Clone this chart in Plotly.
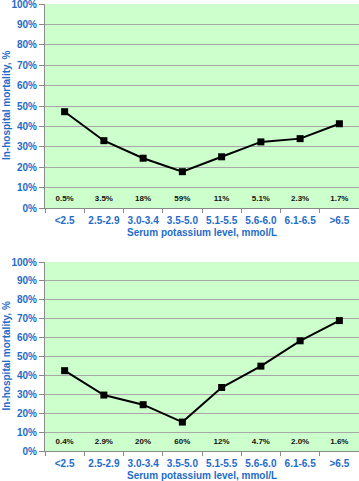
import plotly.graph_objects as go

categories = ["<2.5", "2.5-2.9", "3.0-3.4", "3.5-5.0", "5.1-5.5", "5.6-6.0", "6.1-6.5", ">6.5"]
mortality_top = [47.2, 33.0, 24.4, 17.8, 25.1, 32.4, 34.0, 41.3]
share_top = ["0.5%", "3.5%", "18%", "59%", "11%", "5.1%", "2.3%", "1.7%"]
mortality_bottom = [42.5, 29.6, 24.5, 15.3, 33.6, 44.9, 58.3, 69.0]
share_bottom = ["0.4%", "2.9%", "20%", "60%", "12%", "4.7%", "2.0%", "1.6%"]
y_ticks = [0, 10, 20, 30, 40, 50, 60, 70, 80, 90, 100]
y_tick_labels = [f"{v}%" for v in y_ticks]
x_title = "Serum potassium level, mmol/L"
y_title = "In-hospital mortality, %"

BLUE = "#1f6cc8"
FONT = "Liberation Sans, Arial, sans-serif"
W, H = 359, 481

# panel pixel geometry: (top, bottom) of plot area, x-title centre y
panels_px = [(4, 208, 232), (262, 451, 475)]
X0 = 45

fig = go.Figure()

series = [(mortality_top, share_top), (mortality_bottom, share_bottom)]
annotations = []
for i, ((vals, shares), (top, bot, ty)) in enumerate(zip(series, panels_px)):
    xa = "x" if i == 0 else "x2"
    ya = "y" if i == 0 else "y2"
    fig.add_trace(go.Scatter(
        x=categories, y=vals, mode="lines+markers",
        line=dict(color="black", width=2),
        marker=dict(symbol="square", size=7, color="black"),
        xaxis=xa, yaxis=ya, showlegend=False, hoverinfo="skip", cliponaxis=False,
    ))
    fig.add_trace(go.Scatter(
        x=categories, y=[4.5] * len(categories), mode="text", text=shares,
        textfont=dict(family=FONT, size=8, color="#111111", weight="bold"),
        xaxis=xa, yaxis=ya, showlegend=False, hoverinfo="skip", cliponaxis=False,
    ))
    annotations.append(dict(
        text=x_title, xref="paper", yref="paper",
        x=(X0 + (W - X0) / 2) / W, y=1 - ty / H, xanchor="center", yanchor="middle",
        showarrow=False, font=dict(family=FONT, size=10, color=BLUE, weight="bold"),
    ))
    annotations.append(dict(
        text=y_title, xref="paper", yref="paper", textangle=-90,
        x=6 / W, y=1 - ((top + bot) / 2) / H, xanchor="center", yanchor="middle",
        showarrow=False, font=dict(family=FONT, size=10, color=BLUE, weight="bold"),
    ))

tickfont = dict(family=FONT, size=10, color=BLUE, weight="bold")
axis_x = dict(
    type="category", range=[-0.5, 7.5], showgrid=False,
    showline=True, linecolor="#8a8a8a", linewidth=1,
    ticks="outside", tickson="boundaries", ticklen=4, tickcolor="#8a8a8a",
    tickfont=tickfont, tickangle=0, automargin=False, ticklabelstandoff=3,
    domain=[X0 / W, 1], fixedrange=True,
)
axis_y = dict(
    range=[0, 100], tickvals=y_ticks, ticktext=y_tick_labels,
    showgrid=True, gridcolor="#a8a8a8", gridwidth=1,
    showline=True, linecolor="#8a8a8a", linewidth=1,
    ticks="outside", ticklen=5, tickcolor="#8a8a8a",
    tickfont=tickfont, automargin=False, ticklabeloverflow="allow",
    zeroline=False, fixedrange=True,
)

fig.update_layout(
    width=W, height=H,
    margin=dict(l=0, r=0, t=0, b=0),
    paper_bgcolor="white",
    plot_bgcolor="#ccffcc",
    xaxis=dict(**axis_x, anchor="y"),
    yaxis=dict(**axis_y, domain=[1 - panels_px[0][1] / H, 1 - panels_px[0][0] / H], anchor="x"),
    xaxis2=dict(**axis_x, anchor="y2"),
    yaxis2=dict(**axis_y, domain=[1 - panels_px[1][1] / H, 1 - panels_px[1][0] / H], anchor="x2"),
    annotations=annotations,
)

fig.write_html(
    "out.html",
    config={"displayModeBar": False},
    post_script="document.body.style.margin='0';document.body.style.overflow='hidden';",
)
